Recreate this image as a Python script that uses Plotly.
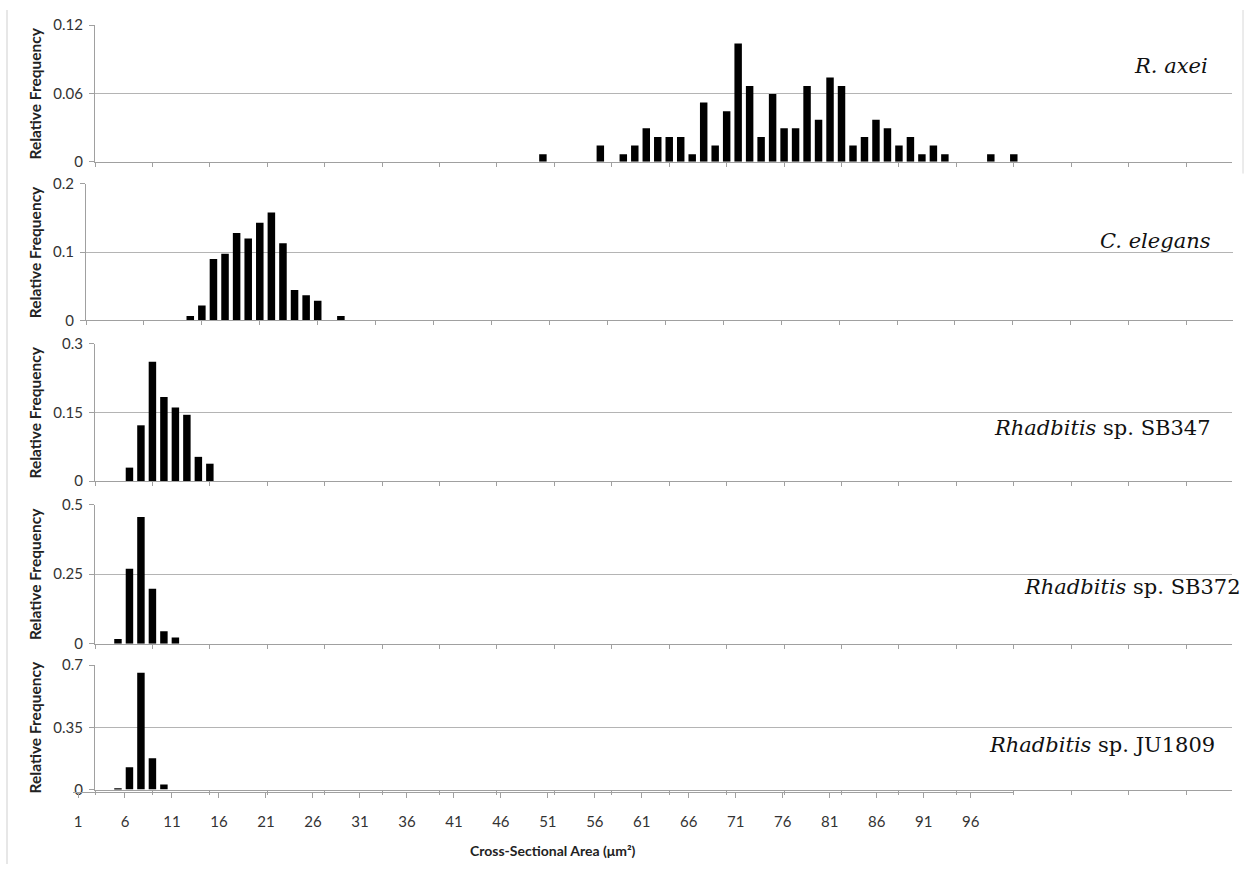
import plotly.graph_objects as go

# ---------------- data ----------------
axei_x = [40, 45, 47, 48, 49, 50, 51, 52, 53, 54, 55, 56, 57, 58, 59, 60, 61, 62, 63, 64,
          65, 66, 67, 68, 69, 70, 71, 72, 73, 74, 75, 79, 81]
axei_y = [0.0067, 0.0143, 0.0067, 0.0143, 0.0295, 0.0218, 0.0218, 0.0218, 0.0067, 0.052,
          0.0143, 0.0445, 0.104, 0.0666, 0.0218, 0.0595, 0.0295, 0.0295, 0.0666, 0.037,
          0.074, 0.0666, 0.0143, 0.0218, 0.037, 0.0295, 0.0143, 0.0218, 0.0067, 0.0143,
          0.0067, 0.0067, 0.0067]

elegans_x = [10, 11, 12, 13, 14, 15, 16, 17, 18, 19, 20, 21, 23]
elegans_y = [0.0067, 0.022, 0.090, 0.0976, 0.128, 0.120, 0.143, 0.158, 0.113, 0.0445,
             0.037, 0.029, 0.0067]

sb347_x = [4, 5, 6, 7, 8, 9, 10, 11]
sb347_y = [0.0294, 0.122, 0.261, 0.184, 0.161, 0.145, 0.053, 0.038]

sb372_x = [3, 4, 5, 6, 7, 8]
sb372_y = [0.0165, 0.269, 0.455, 0.197, 0.045, 0.022]

ju1809_x = [3, 4, 5, 6, 7]
ju1809_y = [0.006, 0.125, 0.658, 0.176, 0.028]

species = ["<i>R. axei</i>", "<i>C. elegans</i>", "<i>Rhadbitis</i> sp. SB347",
           "<i>Rhadbitis</i> sp. SB372", "<i>Rhadbitis</i> sp. JU1809"]
y_tickvals = [[0, 0.06, 0.12], [0, 0.1, 0.2], [0, 0.15, 0.3], [0, 0.25, 0.5], [0, 0.35, 0.7]]
y_ticktext = [["0", "0.06", "0.12"], ["0", "0.1", "0.2"], ["0", "0.15", "0.3"],
              ["0", "0.25", "0.5"], ["0", "0.35", "0.7"]]
x_ticks = list(range(1, 97, 5))
x_ticklabels = [str(v) for v in x_ticks]

# ---------------- layout geometry (pixels) ----------------
W, H = 1249, 872
def px(x):
    return x / W
def py(y):
    return 1 - y / H

# (left, right, top, bottom) of each plot area
boxes = [(95, 1232, 15.5, 155), (86, 1233, 177.6, 317), (95, 1232, 341, 481),
         (95, 1232, 505, 647), (95, 1232, 669, 796)]
label_pos = [(1210, 57), (1213, 236), (1213, 427), (1243, 589), (1217, 750)]

series = [(axei_x, axei_y), (elegans_x, elegans_y), (sb347_x, sb347_y),
          (sb372_x, sb372_y), (ju1809_x, ju1809_y)]

GRID = "#b4b4b4"
AX = "#a0a0a0"
TXT = "#333333"
FONT = "Lato, Open Sans, sans-serif"

fig = go.Figure()
layout = dict(
    width=W, height=H, margin=dict(l=0, r=0, t=0, b=0),
    paper_bgcolor="white", plot_bgcolor="rgba(0,0,0,0)", showlegend=False,
    bargap=0.35,
)
annotations = []
for i, ((xs, ys), (l, r, t, b)) in enumerate(zip(series, boxes)):
    n = i + 1
    xa = "x" if n == 1 else f"x{n}"
    ya = "y" if n == 1 else f"y{n}"
    fig.add_trace(go.Bar(x=xs, y=ys, xaxis=xa, yaxis=ya, width=0.65,
                         marker=dict(color="black", line=dict(width=0))))
    layout["xaxis" if n == 1 else f"xaxis{n}"] = dict(
        domain=[px(l), px(r)], anchor=ya, range=[1, 100],
        showticklabels=False, ticks="outside", ticklen=4, tickcolor=AX,
        tickvals=x_ticks, showline=True, linecolor=AX, linewidth=1,
        showgrid=False, zeroline=False, fixedrange=True)
    layout["yaxis" if n == 1 else f"yaxis{n}"] = dict(
        domain=[py(b), py(t)], anchor=xa, range=[0, y_tickvals[i][-1]],
        tickvals=y_tickvals[i], ticktext=y_ticktext[i],
        ticks="outside", ticklen=5, tickcolor=AX,
        showline=True, linecolor=AX, linewidth=1,
        showgrid=True, gridcolor=GRID, gridwidth=1, zeroline=False,
        tickfont=dict(family=FONT, size=15, color=TXT), ticklabelstandoff=3,
        fixedrange=True)
    annotations.append(dict(
        text="<b>Relative Frequency</b>", textangle=-90, x=px(35), y=py((t + b) / 2),
        xref="paper", yref="paper", xanchor="center", yanchor="middle", showarrow=False,
        font=dict(family=FONT, size=15.5, color="#222222")))
    lx, ly = label_pos[i]
    annotations.append(dict(
        text=species[i], x=px(lx), y=py(ly), xref="paper", yref="paper",
        xanchor="right", yanchor="middle", showarrow=False,
        font=dict(family="DejaVu Serif", size=21, color="#111111")))

# separate category axis carrying the printed labels along the bottom
fig.add_trace(go.Scatter(x=[None], y=[None], xaxis="x6", yaxis="y6", showlegend=False))
layout["xaxis6"] = dict(
    domain=[px(73.3), px(1013)], anchor="y6", range=[0.5, 100.5],
    tickvals=x_ticks, ticktext=x_ticklabels, ticks="outside", ticklen=5, tickcolor=AX,
    showline=True, linecolor=AX, showgrid=False, zeroline=False,
    tickfont=dict(family=FONT, size=15, color=TXT), ticklabelstandoff=11,
    fixedrange=True)
layout["yaxis6"] = dict(domain=[py(798), py(797)], anchor="x6", visible=False,
                        range=[0, 1], fixedrange=True)

annotations.append(dict(
    text="<b>Cross-Sectional Area (μm²)</b>", x=px(468), y=py(858), xref="paper",
    yref="paper", xanchor="left", yanchor="middle", showarrow=False,
    font=dict(family=FONT, size=14, color="#222222")))

layout["annotations"] = annotations
layout["shapes"] = [
    dict(type="line", xref="paper", yref="paper", x0=px(7), x1=px(7), y0=0, y1=1,
         line=dict(color="#cfcfcf", width=1)),
    dict(type="line", xref="paper", yref="paper", x0=px(1243), x1=px(1243),
         y0=py(167), y1=1, line=dict(color="#d8d8d8", width=1)),
]
fig.update_layout(**layout)
fig.write_html("out.html")
